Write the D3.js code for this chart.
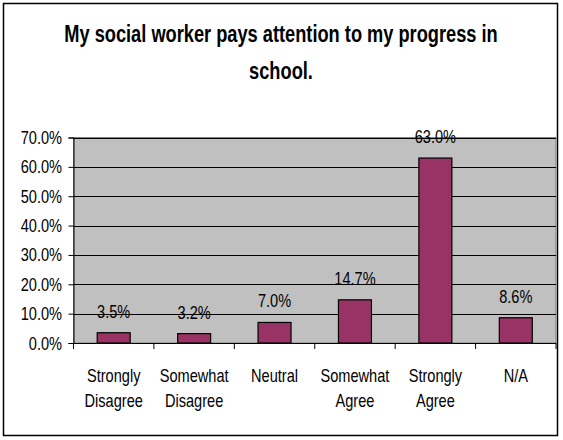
<!DOCTYPE html>
<html><head><meta charset="utf-8">
<script src="https://cdn.jsdelivr.net/npm/d3@7"></script>
<style>body{margin:0;background:#fff}svg{display:block}</style>
</head><body>
<script>
const titleLines = ["My social worker pays attention to my progress in", "school."];
const categories = [["Strongly","Disagree"],["Somewhat","Disagree"],["Neutral"],["Somewhat","Agree"],["Strongly","Agree"],["N/A"]];
const values = [3.5, 3.2, 7.0, 14.7, 63.0, 8.6];
const yTicks = [0,10,20,30,40,50,60,70];

const W = 563, H = 440;
const font = "'Liberation Sans',Arial,sans-serif";
const SX = 0.81;
const svg = d3.select("body").append("svg").attr("width", W).attr("height", H);
svg.append("rect").attr("x",3.5).attr("y",3.5).attr("width",554).attr("height",432)
  .attr("fill","#fff").attr("stroke","#000").attr("stroke-width",1.5);

const m = {l:73.5, r:556, t:137.5, b:343};
const x = d3.scaleBand().domain(d3.range(categories.length)).range([m.l, m.r]).paddingInner(0.59).paddingOuter(0.295);
const xb = d3.scaleBand().domain(d3.range(categories.length)).range([m.l, m.r]);
const y = d3.scaleLinear().domain([0,70]).range([m.b, m.t]);

function ctext(g, tx, ty, sx){
  return g.append("text").attr("transform",`translate(${tx},${ty}) scale(${sx},1)`)
    .attr("font-family",font).attr("fill","#000");
}

svg.append("rect").attr("x",m.l).attr("y",m.t).attr("width",m.r-m.l).attr("height",m.b-m.t)
  .attr("fill","#c0c0c0").attr("stroke","#808080").attr("stroke-width",1);

svg.append("g").selectAll("line").data(yTicks.filter(d=>d>0)).join("line")
  .attr("x1",m.l).attr("x2",m.r).attr("y1",d=>Math.round(y(d))+0.5).attr("y2",d=>Math.round(y(d))+0.5)
  .attr("stroke","#000").attr("stroke-width",1);

const ya = svg.append("g").attr("transform",`translate(${m.l},0)`)
  .call(d3.axisLeft(y).tickValues(yTicks).tickSize(5).tickFormat(""));
ya.select(".domain").attr("stroke","#000");
const yl = svg.append("g");
yTicks.forEach(t=>{
  ctext(yl, 62, y(t)+6.5, SX).attr("text-anchor","end").attr("font-size",18).text(t.toFixed(1)+"%");
});

svg.append("g").selectAll("rect").data(values).join("rect")
  .attr("x",(d,i)=>x(i)).attr("width",x.bandwidth())
  .attr("y",d=>y(d)).attr("height",d=>y(0)-y(d))
  .attr("fill","#993366").attr("stroke","#000").attr("stroke-width",1.2);

const vl = svg.append("g");
values.forEach((v,i)=>{
  ctext(vl, x(i)+x.bandwidth()/2, y(v)-15, SX).attr("text-anchor","middle").attr("font-size",18).text(v.toFixed(1)+"%");
});

// x axis
svg.append("line").attr("x1",m.l).attr("x2",m.r).attr("y1",m.b+0.5).attr("y2",m.b+0.5).attr("stroke","#000");
svg.append("g").selectAll("line").data(d3.range(categories.length+1)).join("line")
  .attr("x1",i=>i<categories.length?xb(i):m.r).attr("x2",i=>i<categories.length?xb(i):m.r)
  .attr("y1",m.b).attr("y2",m.b+6).attr("stroke","#000");

const xl = svg.append("g");
categories.forEach((lines,i)=>{
  lines.forEach((s,j)=>{
    ctext(xl, xb(i)+xb.bandwidth()/2, 382+j*25, SX).attr("text-anchor","middle").attr("font-size",18).text(s);
  });
});

const tl = svg.append("g");
titleLines.forEach((s,i)=>{
  ctext(tl, 281, 42+i*37, 0.76).attr("text-anchor","middle").attr("font-weight","bold").attr("font-size",24).text(s);
});
</script>
</body></html>
